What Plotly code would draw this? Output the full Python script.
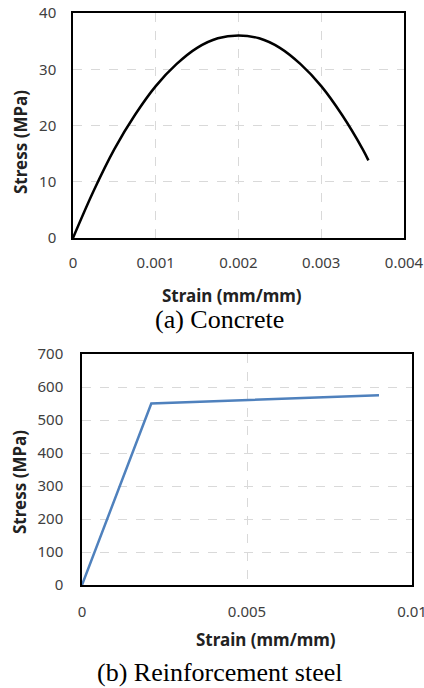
import plotly.graph_objects as go

# Concrete (a)
conc_strain = [0, 0.00025, 0.0005, 0.00075, 0.001, 0.00125, 0.0015, 0.00175, 0.002,
               0.00225, 0.0025, 0.00275, 0.003, 0.00325, 0.0035, 0.00357]
conc_stress = [0, 8.4, 15.8, 21.9, 27.0, 30.9, 33.8, 35.5, 36.0,
               35.5, 33.8, 30.9, 27.0, 21.9, 15.8, 13.8]
conc_xticks = [0, 0.001, 0.002, 0.003, 0.004]
conc_xtext = ["0", "0.001", "0.002", "0.003", "0.004"]
conc_yticks = [0, 10, 20, 30, 40]

# Steel (b)
steel_strain = [0, 0.0021, 0.009]
steel_stress = [0, 550, 575]
steel_xticks = [0, 0.005, 0.01]
steel_xtext = ["0", "0.005", "0.01"]
steel_yticks = [0, 100, 200, 300, 400, 500, 600, 700]

W, H = 424, 688
def px(x): return x / W
def py(y): return 1 - y / H

fig = go.Figure()
fig.add_trace(go.Scatter(x=conc_strain, y=conc_stress, mode="lines",
                         line=dict(color="black", width=2.5, shape="spline"),
                         xaxis="x", yaxis="y", showlegend=False, cliponaxis=False))
fig.add_trace(go.Scatter(x=steel_strain, y=steel_stress, mode="lines",
                         line=dict(color="#4F81BD", width=2.5),
                         xaxis="x2", yaxis="y2", showlegend=False, cliponaxis=False))

tickfont = dict(family="Noto Sans", size=15, color="#404040")
grid = dict(showgrid=True, gridcolor="#d9d9d9", griddash="dash", gridwidth=1,
            showline=True, linecolor="black", linewidth=1.5, mirror=True,
            zeroline=False, ticks="", tickfont=tickfont, automargin=False,
            ticklabeloverflow="allow")

fig.update_layout(
    width=W, height=H, margin=dict(l=0, r=0, t=0, b=0),
    paper_bgcolor="white", plot_bgcolor="white",
    xaxis=dict(domain=[px(73), px(404)], range=[0, 0.004], tickvals=conc_xticks,
               ticktext=conc_xtext, anchor="y", ticklabelstandoff=10, **grid),
    yaxis=dict(domain=[py(238), py(13)], range=[0, 40], tickvals=conc_yticks,
               anchor="x", ticklabelstandoff=12, **grid),
    xaxis2=dict(domain=[px(82), px(412)], range=[0, 0.01], tickvals=steel_xticks,
                ticktext=steel_xtext, anchor="y2", ticklabelstandoff=12, **grid),
    yaxis2=dict(domain=[py(585), py(354)], range=[0, 700], tickvals=steel_yticks,
                anchor="x2", ticklabelstandoff=14, **grid),
)

tfont = dict(family="Noto Sans", size=17, color="#222222")
cfont = dict(family="Liberation Serif", size=26, color="black")
anns = [
    dict(text="<b>Strain (mm/mm)</b>", x=px(232), y=py(295), font=tfont),
    dict(text="<b>Stress (MPa)</b>", x=px(20), y=py(142), font=tfont, textangle=-90),
    dict(text="(a) Concrete", x=px(219), y=py(320), font=cfont),
    dict(text="<b>Strain (mm/mm)</b>", x=px(266), y=py(639), font=tfont),
    dict(text="<b>Stress (MPa)</b>", x=px(19), y=py(482), font=tfont, textangle=-90),
    dict(text="(b) Reinforcement steel", x=px(219), y=py(672), font=cfont),
]
for a in anns:
    fig.add_annotation(xref="paper", yref="paper", showarrow=False,
                       xanchor="center", yanchor="middle", **a)

fig.write_html("out.html", config={"displayModeBar": False},
               post_script="document.body.style.margin='0';document.body.style.overflow='hidden';")
